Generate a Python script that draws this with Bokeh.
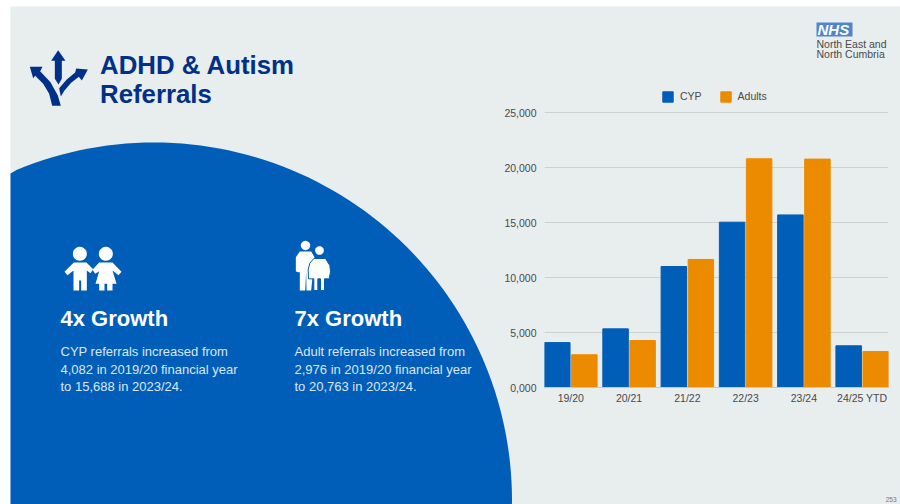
import math
from bokeh.plotting import figure
from bokeh.models import FactorRange, Range1d, ColumnDataSource, Legend, LegendItem, FixedTicker
from bokeh.core.properties import value
from bokeh.transform import dodge
from bokeh.embed import file_html
from bokeh.resources import INLINE

W, H = 900, 504
BG = "#e8edee"
BLUE = "#005eb8"
ORANGE = "#ed8b00"
NAVY = "#003087"
TXT = "#4a4a4a"
FONT = "Liberation Sans"

categories = ["19/20", "20/21", "21/22", "22/23", "23/24", "24/25 YTD"]
cyp = [4082, 5330, 11000, 15030, 15688, 3790]
adults = [2976, 4270, 11640, 20790, 20763, 3275]
y_ticks = [0, 5000, 10000, 15000, 20000, 25000]
y_labels = ["0,000", "5,000", "10,000", "15,000", "20,000", "25,000"]

src = ColumnDataSource(dict(cat=categories, cyp=cyp, adults=adults))

ABS = {"position": "absolute", "left": "0px", "top": "0px"}

# slide backdrop: pixel-coordinate figure behind the chart
bg = figure(width=W, height=H, output_backend="svg", toolbar_location=None,
            x_range=Range1d(0, W), y_range=Range1d(H, 0), x_axis_type=None, y_axis_type=None,
            min_border=0, border_fill_color="#ffffff", background_fill_color="#ffffff", outline_line_color=None)
bg.grid.visible = False
bg.styles = ABS


def poly(pts, color, line=None, lw=1):
    bg.patch([a for a, _ in pts], [b for _, b in pts], fill_color=color,
             line_color=line or color, line_alpha=1 if line else 0, line_width=lw)


def text(x, y, s, size, color, bold=False, align="left", italic=False):
    style = "bold italic" if bold and italic else "bold" if bold else "normal"
    bg.text([x], [y - 0.37 * size], text=[s], text_font=value(FONT), text_font_size=f"{size}px", text_color=color,
            text_font_style=style, text_align=align, text_baseline="alphabetic")


# slide panels
poly([(10, 6), (W + 5, 6), (W + 5, H + 5), (10, H + 5)], BG)
N = 240
poly([(max(10, 153.5 + 358 * math.cos(2 * math.pi * i / N)), min(H + 5, 500 + 358 * math.sin(2 * math.pi * i / N))) for i in range(N)], BLUE)


def z(pts, ox=0, oy=0):
    return [(ox + a / 3, oy + b / 3) for a, b in pts]


# direction arrows icon
poly(z([(173, 149), (195, 181), (184, 181), (184, 235), (174, 252), (163, 235), (163, 181), (152, 181)]), NAVY)
poly(z([(88, 199), (126, 199), (119, 212), (150, 245), (172, 285), (181, 316), (155, 316), (146, 280), (128, 250), (104, 226), (98, 233)]), NAVY)
poly(z([(262, 207), (244, 240), (235, 229), (212, 247), (192, 270), (181, 288), (176, 263), (198, 238), (224, 216), (227, 204)]), NAVY)

text(99.5, 74.5, "ADHD & Autism", 25.8, NAVY, True)
text(99.5, 103, "Referrals", 25.8, NAVY, True)

# children icon
for hx in (118, 196):
    poly(z([(hx + 21 * math.cos(i / 12 * math.pi), 70 + 21 * math.sin(i / 12 * math.pi)) for i in range(24)], 40, 230), "#ffffff")
poly(z([(72, 124), (100, 96), (138, 96), (158, 116), (150, 128), (139, 120), (139, 180), (122, 180), (122, 150), (116, 150), (116, 180), (99, 180), (99, 120), (81, 134)], 40, 230), "#ffffff")
poly(z([(156, 118), (176, 96), (216, 96), (243, 124), (234, 134), (216, 120), (228, 160), (216, 160), (216, 180), (200, 180), (200, 160), (192, 160), (192, 180), (176, 180), (176, 160), (165, 160), (176, 122), (164, 130)], 40, 230), "#ffffff")

# adults icon
AX, AY = 40, 230
poly(z([(795 + 14 * math.cos(i / 12 * math.pi), 45 + 14 * math.sin(i / 12 * math.pi)) for i in range(24)], AX, AY), "#ffffff")
poly(z([(766, 122), (766, 80), (778, 63), (812, 63), (822, 80), (812, 180), (798, 180), (797, 125), (794, 180), (778, 180), (778, 125), (772, 125)], AX, AY), "#ffffff")
poly(z([(820, 84), (855, 84), (868, 105), (870, 124), (866, 145), (852, 145), (852, 180), (840, 180), (840, 145), (832, 145), (832, 180), (820, 180), (820, 145), (804, 145), (803, 118), (808, 98)], AX, AY), "#ffffff", BLUE, 1)
poly(z([(837 + 13 * math.cos(i / 12 * math.pi), 60 + 13 * math.sin(i / 12 * math.pi)) for i in range(24)], AX, AY), "#ffffff")

LIGHT = "#dbe6f3"
text(60, 326, "4x Growth", 22, "#ffffff", True)
text(60, 356, "CYP referrals increased from", 13, LIGHT)
text(60, 374, "4,082 in 2019/20 financial year", 13, LIGHT)
text(60, 391, "to 15,688 in 2023/24.", 13, LIGHT)
text(294, 326, "7x Growth", 22, "#ffffff", True)
text(294, 356, "Adult referrals increased from", 13, LIGHT)
text(294, 374, "2,976 in 2019/20 financial year", 13, LIGHT)
text(294, 391, "to 20,763 in 2023/24.", 13, LIGHT)

# NHS logo
poly([(816, 22), (852, 22), (852, 36), (816, 36)], "#4f86c9")
text(817, 34.5, "NHS", 15, "#ffffff", True, italic=True)
text(816, 47.5, "North East and", 10.5, TXT)
text(816, 57.5, "North Cumbria", 10.5, TXT)
text(896, 501, "253", 6.5, "#777777", align="right")

# chart, on top of the backdrop; frame reaches above the 25,000 line to hold the legend
FL, FR, FT, FB = 544, 888, 84, 387
Y_TOP = 25000 * (FB - FT) / (FB - 112)
p = figure(width=W, height=H, output_backend="svg", toolbar_location=None,
           x_range=FactorRange(factors=categories, range_padding=-0.0485, range_padding_units="absolute"),
           y_range=Range1d(0, Y_TOP),
           min_border_left=FL, min_border_right=W - FR, min_border_top=FT, min_border_bottom=H - FB,
           border_fill_color=None, background_fill_color=None, outline_line_color=None)
p.styles = ABS

r1 = p.vbar(x=dodge("cat", -0.232, range=p.x_range), top="cyp", width=0.4375, source=src, color=BLUE)
r2 = p.vbar(x=dodge("cat", 0.232, range=p.x_range), top="adults", width=0.4375, source=src, color=ORANGE)

p.xgrid.visible = False
p.ygrid.grid_line_color = "#ccd1d3"
p.ygrid.grid_line_width = 1
p.yaxis.ticker = FixedTicker(ticks=y_ticks)
p.yaxis.major_label_overrides = dict(zip(y_ticks, y_labels))
p.yaxis.axis_line_color = None
p.yaxis.major_tick_line_color = None
p.yaxis.minor_tick_line_color = None
p.yaxis.major_tick_out = 0
p.yaxis.major_label_standoff = 8
p.xaxis.axis_line_color = "#c4c8ca"
p.xaxis.major_tick_line_color = None
p.xaxis.minor_tick_line_color = None
p.xaxis.major_tick_out = 0
p.xaxis.major_label_standoff = 4
for ax in (p.xaxis[0], p.yaxis[0]):
    ax.major_label_text_font = FONT
    ax.major_label_text_font_size = "10.5px"
    ax.major_label_text_color = TXT

leg = Legend(items=[LegendItem(label="CYP", renderers=[r1]), LegendItem(label="Adults", renderers=[r2])],
             orientation="horizontal", location=(117, 284.5), background_fill_alpha=0, border_line_alpha=0,
             glyph_width=13, glyph_height=13, label_text_font=FONT, label_text_font_size="10.5px",
             label_text_color=TXT, spacing=17, label_standoff=6, margin=0, padding=0)
p.add_layout(leg)

open("out.html", "w").write(file_html([bg, p], INLINE))
